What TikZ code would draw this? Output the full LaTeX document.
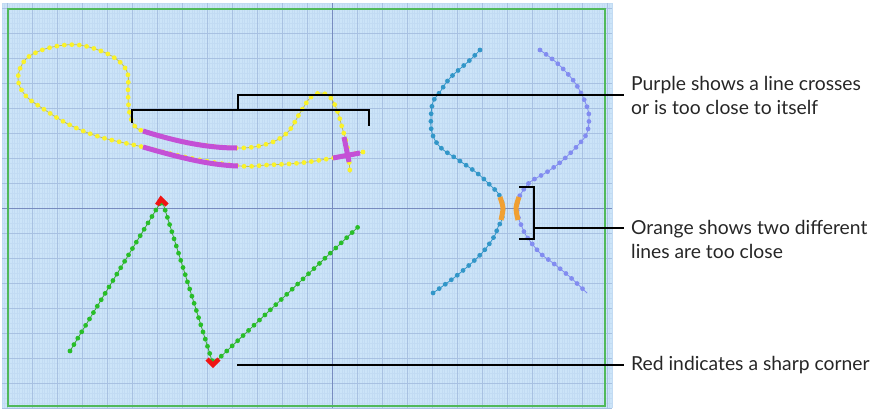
\documentclass[tikz,border=0pt]{standalone}
\usepackage{fontspec}
\setmainfont{Lato}
\usetikzlibrary{calc}
\definecolor{gridbg}{RGB}{204,228,248}
\definecolor{gridminor}{RGB}{194,219,243}
\definecolor{gridmajor}{RGB}{168,193,226}
\definecolor{gridaxis}{RGB}{120,140,192}
\definecolor{hoopgreen}{RGB}{80,185,90}
\definecolor{threadyellow}{RGB}{250,242,40}
\definecolor{threadolive}{RGB}{190,190,90}
\definecolor{warnpurple}{RGB}{196,80,214}
\definecolor{warnorange}{RGB}{240,160,50}
\definecolor{warnred}{RGB}{240,20,20}
\definecolor{threadblue}{RGB}{50,150,200}
\definecolor{threadlilac}{RGB}{130,140,240}
\definecolor{threadgreen}{RGB}{40,190,40}
\definecolor{threaddark}{RGB}{60,160,60}
\tikzset{
  stitch/.style 2 args={draw=#1, line width=0.8pt,
    postaction={draw=#2, line width=4.8pt, line cap=round, dash pattern=on 0pt off 7.5pt}},
  marker/.style={draw=#1, line width=5pt},
  callout/.style={draw=black, line width=1.4pt},
  note/.style={anchor=west, align=left, inner xsep=7pt, inner ysep=0pt,
    font=\fontsize{19.3}{24}\selectfont, text=black!85}
}
\begin{document}
\begin{tikzpicture}[x=1pt, y=-1pt]
  \useasboundingbox (0,0) rectangle (889,408);
  \fill[gridbg] (2,3) rectangle (612,408);
  \foreach \gx in {2,4.5,...,612} \draw[gridminor, line width=0.4pt] (\gx,3) -- (\gx,408);
  \foreach \gy in {3,8,...,408} \draw[gridminor, line width=0.3pt] (2,\gy) -- (612,\gy);
  \foreach \gx in {7,32,...,612} \draw[gridmajor, line width=0.7pt] (\gx,3) -- (\gx,408);
  \foreach \gy in {8,33,...,408} \draw[gridmajor, line width=0.7pt] (2,\gy) -- (612,\gy);
  \draw[gridaxis, line width=0.8pt] (332,3) -- (332,408) (2,208) -- (612,208);
  \draw[gridaxis, line width=1pt] (320,208) -- (344,208) (332,196) -- (332,220);
  \draw[hoopgreen, line width=1.5pt] (8,9) rectangle (605,406);

  \draw[stitch={threadolive}{threadyellow}] plot[smooth, tension=0.6] coordinates {
    (363,152) (347,155) (333,158) (300,163) (267,165) (240,166) (190,158) (143,147)
    (100,137) (70,125) (45,110) (25,95) (18,78) (25,60) (42,50) (65,45) (85,46)
    (108,54) (122,64) (128,75) (128,90) (129,110) (133,123) (143,131) (190,143)
    (237,148) (267,144) (287,133) (300,113) (310,98) (320,93) (330,97) (337,110)
    (342,127) (347,145) (349,160) (350,173)};
  \draw[marker=warnpurple] (143,131) .. controls (178,142) and (208,148) .. (237,148);
  \draw[marker=warnpurple] (143,147) .. controls (178,157) and (208,165) .. (238,166);
  \draw[marker=warnpurple] (333,158) -- (360,153) (344,137) -- (349,162);

  \draw[stitch={threadblue}{threadblue}] plot[smooth, tension=0.6] coordinates {
    (480,50) (470,60) (450,78) (440,92) (433,102) (431,117) (432,133) (440,147)
    (457,159) (477,173) (490,185) (498,193) (501,198) (503,210) (501,222) (498,227)
    (495,235) (487,247) (477,258) (460,273) (447,283) (433,293)};
  \draw[stitch={threadlilac}{threadlilac}] plot[smooth, tension=0.6] coordinates {
    (540,50) (557,63) (573,80) (582,95) (588,110) (589,120) (587,133) (580,143)
    (563,160) (547,172) (530,182) (522,192) (519,197) (517,208) (519,220) (522,227)
    (527,237) (540,253) (553,263) (570,277) (587,293)};
  \draw[marker=warnorange] plot[smooth] coordinates {(500,197) (503,208) (501,220)};
  \draw[marker=warnorange] plot[smooth] coordinates {(519,197) (516,208) (518,220)};

  \draw[stitch={threaddark}{threadgreen}] (70,351) -- (162,200) -- (213,364) -- (358,227);
  \draw[warnred, line width=4.5pt, line join=miter] (157,205) -- (161,199) -- (167,205);
  \draw[warnred, line width=4.5pt, line join=miter] (207,359) -- (213,365) -- (219,359);

  \node[note] (purpleTxt) at (624,95) {Purple shows a line crosses\\or is too close to itself};
  \node[note] (orangeTxt) at (624,239) {Orange shows two different\\lines are too close};
  \node[note] (redTxt) at (624,365) {Red indicates a sharp corner};

  \coordinate (purpleL) at (132,123);
  \coordinate (purpleR) at (369,126);
  \coordinate (purpleM) at (238,110);
  \coordinate (orangeTop) at (519,187);
  \coordinate (orangeBot) at (519,239);
  \coordinate (orangeTap) at (534,228);
  \coordinate (redTap) at (237,365);

  \draw[callout] (purpleL) -- ++(0,-13) -| (purpleR);
  \draw[callout] (purpleM) |- (purpleTxt.west);
  \draw[callout] (orangeTop) -| (orangeTap |- orangeBot) -- (orangeBot);
  \draw[callout] (orangeTap) -- (orangeTap -| orangeTxt.west);
  \draw[callout] (redTap) -- (redTap -| redTxt.west);
\end{tikzpicture}
\end{document}
